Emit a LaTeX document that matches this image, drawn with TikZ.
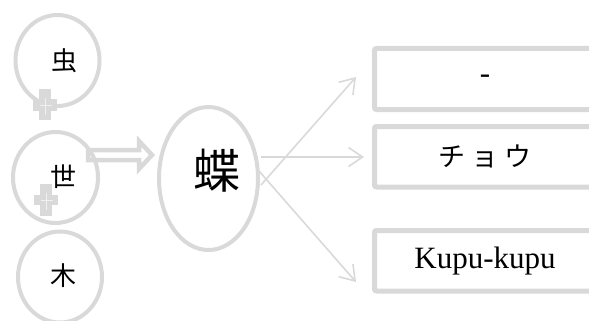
\documentclass[tikz,border=0pt]{standalone}
\usepackage{fontspec}
\setmainfont{Liberation Serif}
\newfontfamily\cjk{Noto Sans CJK JP}
\usetikzlibrary{arrows.meta,shapes.geometric}
\definecolor{lg}{RGB}{217,217,217}
\tikzset{
  ring/.style={draw=lg, line width=4pt, ellipse, inner sep=0pt},
  wordbox/.style={draw=lg, line width=5pt, rounded corners=2pt, minimum width=221pt, inner sep=0pt, font=\fontsize{31}{31}\selectfont},
  thinarrow/.style={draw=lg, line width=1.6pt, -{Straight Barb[length=14pt,width=19pt]}},
  plusfill/.style={fill=lg, draw=none},
  plusline/.style={draw=white!60!lg, line width=0.8pt},
  cjkbig/.style={font=\cjk\fontsize{26}{26}\selectfont}
}
\begin{document}
\begin{tikzpicture}[x=1pt,y=-1pt]
\useasboundingbox (0,0) rectangle (589,321);
% double arrow
\draw[draw=lg, fill=white, line width=4.5pt, line join=miter]
  (88,150) -- (139,150) -- (139,141) -- (152,155) -- (139,169) -- (139,160) -- (88,160) -- cycle;
% circles
\node[ring, minimum width=84pt, minimum height=91pt] (c1) at (57.5,60.5) {};
\node[ring, minimum width=85pt, minimum height=91pt] (c2) at (55.5,177.5) {};
\node[ring, minimum width=84pt, minimum height=91pt] (c3) at (60,277) {};
\node[cjkbig] (t1) at (64,61) {虫};
\node[cjkbig] (t2) at (63,177) {世};
\node[cjkbig] (t3) at (63,276) {木};
% plus signs
\fill[plusfill] (39,89) rectangle (51,120);
\fill[plusfill] (33,99) rectangle (57,111);
\draw[plusline] (45,98) -- (45,115) (40,105) -- (52,105);
\fill[plusfill] (40,184) rectangle (52,216);
\fill[plusfill] (34,195) rectangle (58,205);
\draw[plusline] (46,193) -- (46,210) (41,200) -- (53,200);
% big ellipse
\node[ring, minimum width=99pt, minimum height=143pt] (big) at (208.5,178.5) {};
\node[font=\cjk\fontsize{47}{47}\selectfont] (bt) at (217,171) {蝶};
% boxes
\node[wordbox, minimum height=61pt] (b1) at (485,79) {-};
\node[wordbox, minimum height=60.5pt, font=\cjk\fontsize{27}{27}\selectfont] (b2) at (485,156.75) {チ\hspace{6pt}ョ\hspace{6pt}ウ};
\node[wordbox, minimum height=60.5pt] (b3) at (485,260.75) {Kupu-kupu};
% arrow ends
\coordinate (e1) at (356,77);
\coordinate (e2) at (364,157);
\coordinate (e3) at (356,282);
\coordinate (s1) at (261,185);
\coordinate (s2) at (261,157);
\coordinate (s3) at (259,171);
\draw[thinarrow] (s1) -- (e1);
\draw[thinarrow] (s2) -- (e2);
\draw[thinarrow] (s3) -- (e3);
\end{tikzpicture}
\end{document}
